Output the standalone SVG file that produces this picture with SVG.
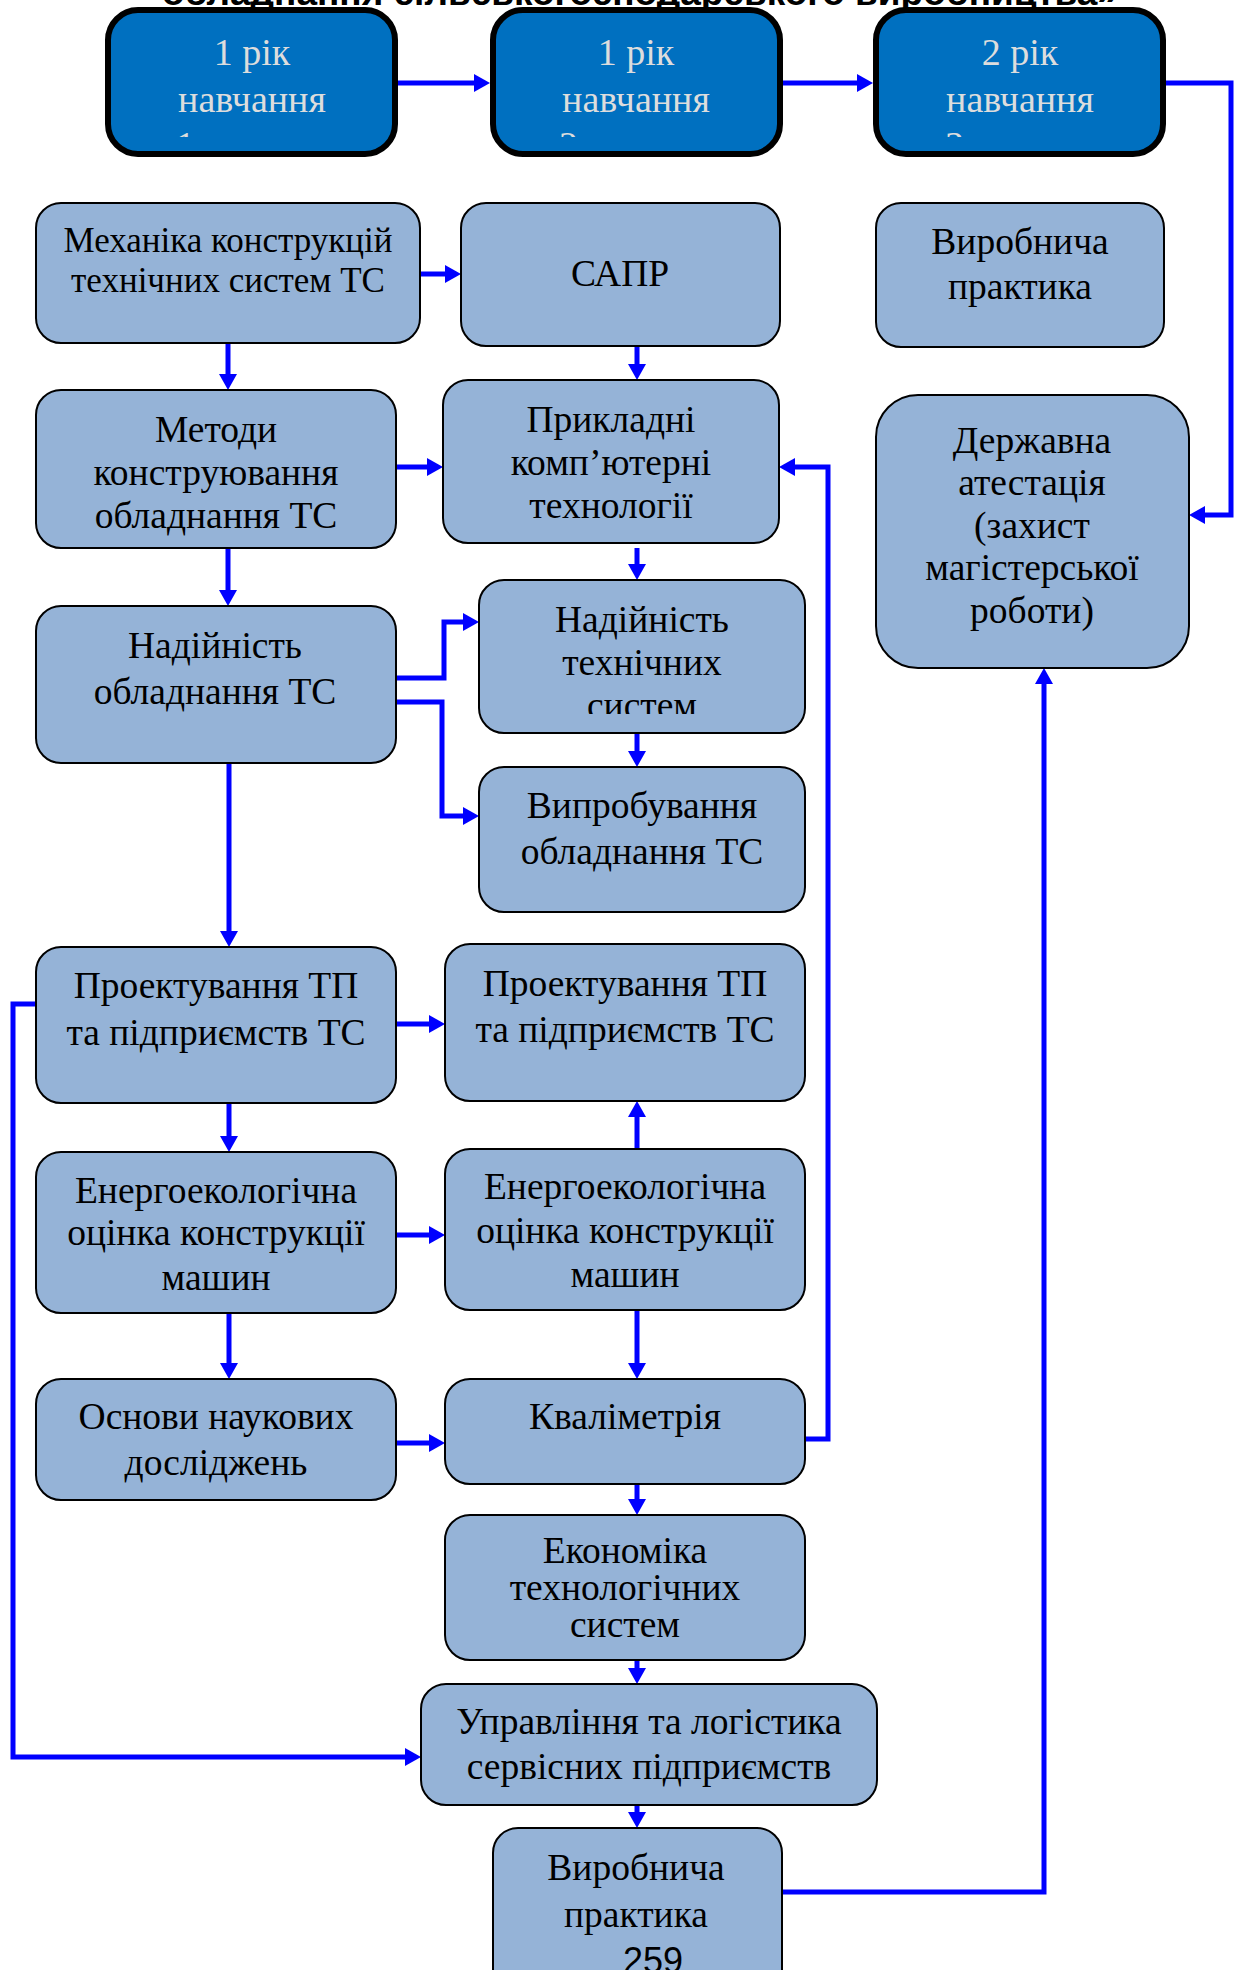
<svg xmlns="http://www.w3.org/2000/svg" width="1234" height="1970" viewBox="0 0 1234 1970">
<style>
.node rect{fill:#95B3D7;stroke:#000;stroke-width:2}
.year rect{fill:#0070C0;stroke:#000;stroke-width:6}
.t{font-family:"Liberation Serif","Times New Roman",serif;font-size:37.5px;fill:#000;text-anchor:middle}
.s{font-size:35px}
.yt{font-family:"Liberation Serif","Times New Roman",serif;font-size:38px;fill:#DDDDDD;text-anchor:middle}
.c{fill:none;stroke:#0000FF;stroke-width:5;marker-end:url(#ah)}
.title{font-family:"Liberation Sans",Arial,sans-serif;font-weight:bold;font-size:37px;fill:#000;text-anchor:middle}
</style>
<defs>
<marker id="ah" markerUnits="userSpaceOnUse" markerWidth="16" markerHeight="18" refX="6" refY="9" orient="auto">
<path d="M0,0 L16,9 L0,18 z" fill="#0000FF"/>
</marker>
<clipPath id="clipY"><rect x="0" y="0" width="1234" height="137"/></clipPath>
<clipPath id="clipNT"><rect x="479" y="580" width="326" height="134"/></clipPath>
</defs>
<rect width="1234" height="1970" fill="#FFFFFF"/>
<text class="title" x="640" y="5">обладнання сільськогосподарського виробництва»</text>

<g id="connectors">
<path class="c" d="M398,83 H480"/>
<path class="c" d="M780,83 H863"/>
<path class="c" d="M1166,83 H1231 V515 H1199"/>
<path class="c" d="M420,274 H451"/>
<path class="c" d="M228,343 V380"/>
<path class="c" d="M637,346 V370"/>
<path class="c" d="M396,467 H433"/>
<path class="c" d="M805,1439 H828 V467 H789"/>
<path class="c" d="M637,548 V570"/>
<path class="c" d="M228,548 V596"/>
<path class="c" d="M396,678 H444 V622 H469"/>
<path class="c" d="M396,702 H442 V816 H469"/>
<path class="c" d="M637,733 V757"/>
<path class="c" d="M229,763 V937"/>
<path class="c" d="M396,1024 H435"/>
<path class="c" d="M36,1004 H13 V1757 H411"/>
<path class="c" d="M229,1103 V1142"/>
<path class="c" d="M637,1149 V1111"/>
<path class="c" d="M396,1235 H435"/>
<path class="c" d="M229,1313 V1369"/>
<path class="c" d="M637,1310 V1369"/>
<path class="c" d="M396,1443 H435"/>
<path class="c" d="M637,1484 V1505"/>
<path class="c" d="M637,1660 V1674"/>
<path class="c" d="M637,1805 V1818"/>
<path class="c" d="M782,1892 H1044 V678"/>
</g>

<g id="year1" class="year">
<rect x="108" y="10" width="287" height="144" rx="30"/>
<text class="yt" x="252" y="65">1 рік</text>
<text class="yt" x="252" y="112">навчання</text>
<text class="yt" x="176" y="158" style="text-anchor:start" clip-path="url(#clipY)">1</text>
</g>
<g id="year2" class="year">
<rect x="493" y="10" width="287" height="144" rx="30"/>
<text class="yt" x="636" y="65">1 рік</text>
<text class="yt" x="636" y="112">навчання</text>
<text class="yt" x="559" y="158" style="text-anchor:start" clip-path="url(#clipY)">2</text>
</g>
<g id="year3" class="year">
<rect x="876" y="10" width="287" height="144" rx="30"/>
<text class="yt" x="1020" y="65">2 рік</text>
<text class="yt" x="1020" y="112">навчання</text>
<text class="yt" x="945" y="158" style="text-anchor:start" clip-path="url(#clipY)">3</text>
</g>

<g id="mekhanika" class="node">
<rect x="36" y="203" width="384" height="140" rx="25"/>
<text class="t s" x="228" y="252">Механіка конструкцій</text>
<text class="t s" x="228" y="292">технічних систем ТС</text>
</g>
<g id="sapr" class="node">
<rect x="461" y="203" width="319" height="143" rx="25"/>
<text class="t" x="620" y="286">САПР</text>
</g>
<g id="praktyka1" class="node">
<rect x="876" y="203" width="288" height="144" rx="25"/>
<text class="t" x="1020" y="254">Виробнича</text>
<text class="t" x="1020" y="299">практика</text>
</g>
<g id="metody" class="node">
<rect x="36" y="390" width="360" height="158" rx="25"/>
<text class="t" x="216" y="442">Методи</text>
<text class="t" x="216" y="485">конструювання</text>
<text class="t" x="216" y="528">обладнання ТС</text>
</g>
<g id="prykladni" class="node">
<rect x="443" y="380" width="336" height="163" rx="25"/>
<text class="t" x="611" y="432">Прикладні</text>
<text class="t" x="611" y="475">комп’ютерні</text>
<text class="t" x="611" y="518">технології</text>
</g>
<g id="atestatsiia" class="node">
<rect x="876" y="395" width="313" height="273" rx="42"/>
<text class="t" x="1032" y="453">Державна</text>
<text class="t" x="1032" y="495">атестація</text>
<text class="t" x="1032" y="538">(захист</text>
<text class="t" x="1032" y="580">магістерської</text>
<text class="t" x="1032" y="623">роботи)</text>
</g>
<g id="nadiinist-obl" class="node">
<rect x="36" y="606" width="360" height="157" rx="25"/>
<text class="t" x="215" y="658">Надійність</text>
<text class="t" x="215" y="704">обладнання ТС</text>
</g>
<g id="nadiinist-tekh" class="node">
<rect x="479" y="580" width="326" height="153" rx="25"/>
<text class="t" x="642" y="632">Надійність</text>
<text class="t" x="642" y="675">технічних</text>
<text class="t" x="642" y="718" clip-path="url(#clipNT)">систем</text>
</g>
<g id="vyprobuvannia" class="node">
<rect x="479" y="767" width="326" height="145" rx="25"/>
<text class="t" x="642" y="818">Випробування</text>
<text class="t" x="642" y="864">обладнання ТС</text>
</g>
<g id="proekt-l" class="node">
<rect x="36" y="947" width="360" height="156" rx="25"/>
<text class="t" x="216" y="998">Проектування ТП</text>
<text class="t" x="216" y="1045">та підприємств ТС</text>
</g>
<g id="proekt-r" class="node">
<rect x="445" y="944" width="360" height="157" rx="25"/>
<text class="t" x="625" y="996">Проектування ТП</text>
<text class="t" x="625" y="1042">та підприємств ТС</text>
</g>
<g id="enerho-l" class="node">
<rect x="36" y="1152" width="360" height="161" rx="25"/>
<text class="t" x="216" y="1203">Енергоекологічна</text>
<text class="t" x="216" y="1245">оцінка конструкції</text>
<text class="t" x="216" y="1290">машин</text>
</g>
<g id="enerho-r" class="node">
<rect x="445" y="1149" width="360" height="161" rx="25"/>
<text class="t" x="625" y="1199">Енергоекологічна</text>
<text class="t" x="625" y="1243">оцінка конструкції</text>
<text class="t" x="625" y="1287">машин</text>
</g>
<g id="osnovy" class="node">
<rect x="36" y="1379" width="360" height="121" rx="25"/>
<text class="t" x="216" y="1429">Основи наукових</text>
<text class="t" x="216" y="1475">досліджень</text>
</g>
<g id="kvalimetriia" class="node">
<rect x="445" y="1379" width="360" height="105" rx="25"/>
<text class="t" x="625" y="1429">Кваліметрія</text>
</g>
<g id="ekonomika" class="node">
<rect x="445" y="1515" width="360" height="145" rx="25"/>
<text class="t" x="625" y="1563">Економіка</text>
<text class="t" x="625" y="1600">технологічних</text>
<text class="t" x="625" y="1637">систем</text>
</g>
<g id="upravlinnia" class="node">
<rect x="421" y="1684" width="456" height="121" rx="25"/>
<text class="t" x="649" y="1734">Управління та логістика</text>
<text class="t" x="649" y="1779">сервісних підприємств</text>
</g>
<g id="praktyka2" class="node">
<rect x="493" y="1828" width="289" height="170" rx="25"/>
<text class="t" x="636" y="1880">Виробнича</text>
<text class="t" x="636" y="1927">практика</text>
</g>
<text x="653" y="1973" style="font-family:'Liberation Sans',Arial,sans-serif;font-size:36px;fill:#000;text-anchor:middle">259</text>
</svg>
